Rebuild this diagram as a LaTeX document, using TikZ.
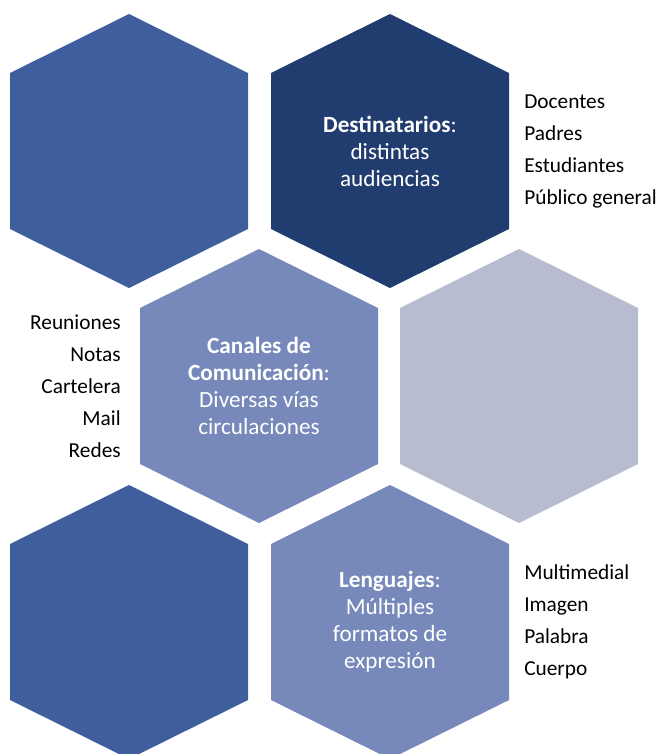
\documentclass[tikz,border=0pt]{standalone}
\usepackage{fontspec}
\setmainfont{Carlito}
\definecolor{hexBlue}{RGB}{63,94,158}
\definecolor{hexNavy}{RGB}{33,60,110}
\definecolor{hexMid}{RGB}{119,137,186}
\definecolor{hexGrey}{RGB}{183,188,208}

\begin{document}
\begin{tikzpicture}
[x=0.75pt,y=-0.75pt,
  hexText/.style={align=center,text=white,font=\fontsize{17.4}{20.2}\selectfont,inner sep=0pt},%
  listText/.style={text=black,font=\fontsize{16}{24}\selectfont,inner sep=0pt}]
\useasboundingbox (0,0) rectangle (658,754);
%% hexagons
\foreach \hexname/\x/\y/\col in {hexA/129/151/hexBlue, hexB/390/151/hexNavy,
    hexC/259/386/hexMid, hexD/519/386/hexGrey, hexE/129/622/hexBlue, hexF/390/622/hexMid} {
  \fill[fill=\col] (\x,\y) ++(0,-137) -- ++(119,59) -- ++(0,156) -- ++(-119,59)
    -- ++(-119,-59) -- ++(0,-156) -- cycle;
  \coordinate (\hexname) at (\x,\y);
}
%% texts in the hexagons
\node (destinatarios) at (hexB) [hexText] {\textbf{Destinatarios}:\\distintas\\audiencias};
\node (canales) at (hexC) [hexText] {\textbf{Canales de}\\\textbf{Comunicación}:\\Diversas vías\\circulaciones};
\node (lenguajes) at (hexF) [hexText] {\textbf{Lenguajes}:\\Múltiples\\formatos de\\expresión};
%% lists beside them
\node (audiencias) at (524,151) [listText,anchor=west,align=left] {Docentes\\Padres\\Estudiantes\\Público general};
\node (vias) at (121,386) [listText,anchor=east,align=right] {Reuniones\\Notas\\Cartelera\\Mail\\Redes};
\node (formatos) at (524,622) [listText,anchor=west,align=left] {Multimedial\\Imagen\\Palabra\\Cuerpo};
\end{tikzpicture}
\end{document}
